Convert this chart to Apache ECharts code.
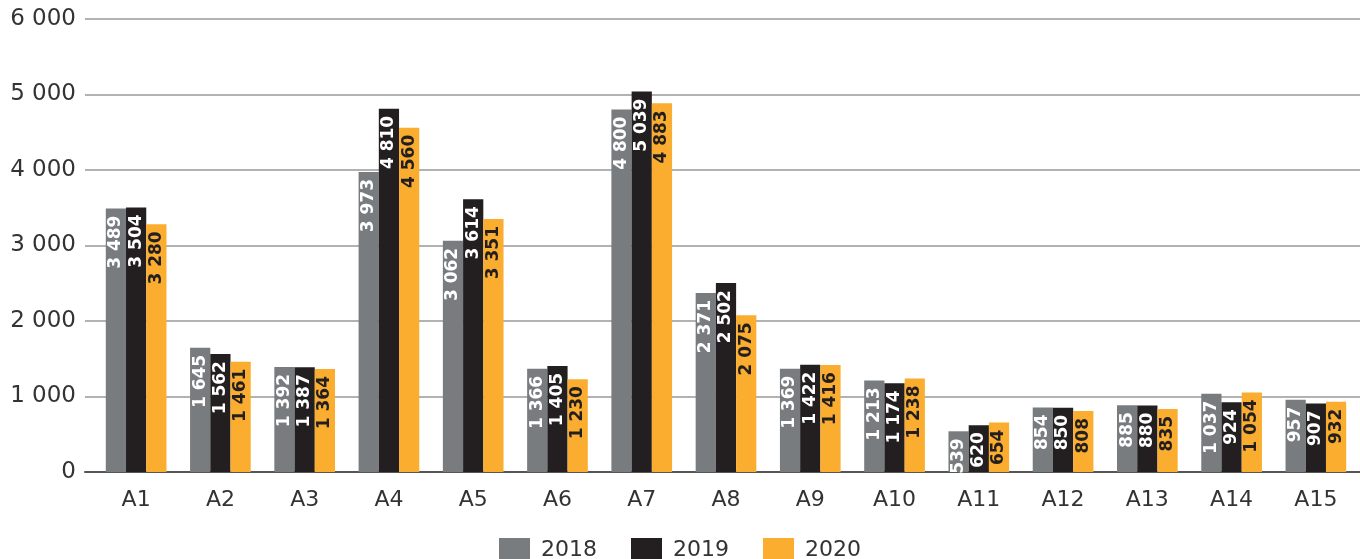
<!DOCTYPE html>
<html><head><meta charset="utf-8">
<script src="https://cdn.jsdelivr.net/npm/echarts@6/dist/echarts.min.js"></script>
<style>html,body{margin:0;padding:0;background:#fff}#c{width:1360px;height:559px}</style>
</head><body><div id="c"></div>
<script>
var categories = ['A1','A2','A3','A4','A5','A6','A7','A8','A9','A10','A11','A12','A13','A14','A15'];
var seriesNames = ['2018','2019','2020'];
var v2018 = [3489,1645,1392,3973,3062,1366,4800,2371,1369,1213,539,854,885,1037,957];
var v2019 = [3504,1562,1387,4810,3614,1405,5039,2502,1422,1174,620,850,880,924,907];
var v2020 = [3280,1461,1364,4560,3351,1230,4883,2075,1416,1238,654,808,835,1054,932];
var yTicks = [0,1000,2000,3000,4000,5000,6000];

var colors = ['#787c7f','#231f20','#fbad30'];
var labelColors = ['#ffffff','#ffffff','#231f20'];
function fmt(v){return String(v).replace(/\B(?=(\d{3})+(?!\d))/g,' ');}
var font = 'DejaVu Sans';
var chart = echarts.init(document.getElementById('c'));
var vals = [v2018,v2019,v2020];
chart.setOption({
  animation:false,
  textStyle:{fontFamily:font},
  grid:[
    {left:85,right:0,top:19,bottom:87},
    {left:94,right:2,top:19,bottom:87}
  ],
  legend:{
    data:seriesNames, top:533, left:'center', itemWidth:31, itemHeight:25, itemGap:34,
    icon:'rect',
    textStyle:{fontFamily:font,fontSize:22,color:'#333',padding:[0,0,0,6]}
  },
  xAxis:[
    {type:'category',gridIndex:0,data:categories,axisLabel:{show:false},axisTick:{show:false},
     axisLine:{show:true,lineStyle:{color:'#555',width:2}}},
    {type:'category',gridIndex:1,data:categories,axisTick:{show:false},axisLine:{show:false},
     axisLabel:{fontFamily:font,fontSize:22,color:'#333',margin:17}}
  ],
  yAxis:[
    {type:'value',gridIndex:0,min:yTicks[0],max:yTicks[yTicks.length-1],interval:1000,
     axisLabel:{fontFamily:font,fontSize:23,color:'#333',margin:9,formatter:function(v){return fmt(v);}},
     axisLine:{show:false},axisTick:{show:false},
     splitLine:{lineStyle:{color:'#999',width:1.5}}},
    {type:'value',gridIndex:1,min:yTicks[0],max:yTicks[yTicks.length-1],interval:1000,show:false,splitLine:{show:false}}
  ],
  series: seriesNames.map(function(n,i){
    return {
      name:n,type:'bar',xAxisIndex:1,yAxisIndex:1,data:vals[i],
      barGap:'0%',barCategoryGap:'28%',
      itemStyle:{color:colors[i]},
      label:{show:true,position:'insideTop',rotate:90,align:'right',verticalAlign:'middle',distance:7,
        fontFamily:font,fontWeight:'bold',fontSize:17,color:labelColors[i],
        formatter:function(p){return fmt(p.value);}}
    };
  })
});
</script></body></html>
